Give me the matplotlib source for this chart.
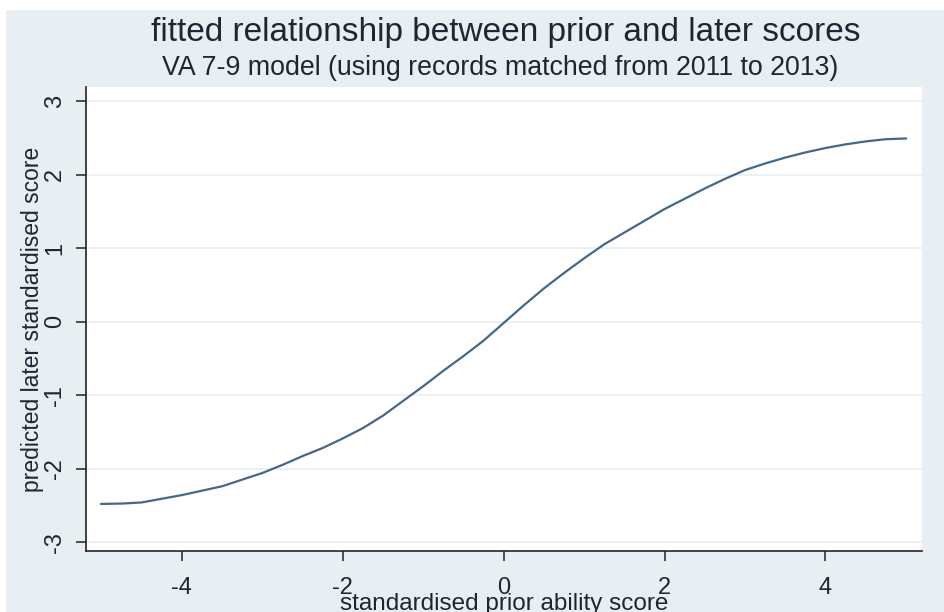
import matplotlib
matplotlib.use("Agg")
import matplotlib.pyplot as plt
from matplotlib.patches import Rectangle

# values
prior_score = [-5.0, -4.75, -4.5, -4.25, -4.0, -3.75, -3.5, -3.25, -3.0, -2.75, -2.5,
               -2.25, -2.0, -1.75, -1.5, -1.25, -1.0, -0.75, -0.5, -0.25, 0.0,
               0.25, 0.5, 0.75, 1.0, 1.25, 1.5, 1.75, 2.0, 2.25, 2.5,
               2.75, 3.0, 3.25, 3.5, 3.75, 4.0, 4.25, 4.5, 4.75, 5.0]
predicted_score = [-2.48, -2.475, -2.46, -2.41, -2.36, -2.30, -2.24, -2.15, -2.06, -1.95, -1.83,
                   -1.72, -1.59, -1.45, -1.28, -1.08, -0.88, -0.67, -0.47, -0.26, -0.02,
                   0.22, 0.45, 0.66, 0.86, 1.05, 1.21, 1.37, 1.53, 1.67, 1.81,
                   1.94, 2.06, 2.15, 2.23, 2.30, 2.36, 2.41, 2.45, 2.48, 2.49]
x_ticks = [-4, -2, 0, 2, 4]
y_ticks = [-3, -2, -1, 0, 1, 2, 3]

font = ['Liberation Sans', 'DejaVu Sans']
text_col = '#1f2633'
bg = '#e8eff2'

fig = plt.figure(figsize=(9.44, 6.12), dpi=100)
fig.patch.set_facecolor('white')
# graph region (slightly offset, as in the screenshot)
fig.patches.append(Rectangle((6 / 944, 0), 1, 1 - 10 / 612, transform=fig.transFigure,
                             facecolor=bg, edgecolor='none', zorder=-10))

ax = fig.add_axes([86 / 944, 1 - 551 / 612, (922 - 86) / 944, (551 - 87) / 612])
ax.set_facecolor('white')
ax.plot(prior_score, predicted_score, color='#456789', linewidth=1.6, zorder=3)

ax.set_xlim(-5.19, 5.2)
ax.set_ylim(-3.12, 3.19)
ax.set_xticks(x_ticks)
ax.set_yticks(y_ticks)
ax.set_xticklabels([str(t) for t in x_ticks])
ax.set_yticklabels([str(t) for t in y_ticks])
ax.grid(axis='y', color='#eaf1f4', linewidth=1.4, zorder=0)
ax.set_axisbelow(True)

for side in ['top', 'right']:
    ax.spines[side].set_visible(False)
for side in ['left', 'bottom']:
    ax.spines[side].set_color('#222222')
    ax.spines[side].set_linewidth(1.2)

ax.tick_params(axis='both', direction='out', length=7, width=1.1, color='#222222',
               labelsize=17, labelcolor=text_col)
ax.tick_params(axis='y', labelrotation=90, pad=7.5)
ax.tick_params(axis='x', pad=12)
for lab in ax.get_xticklabels() + ax.get_yticklabels():
    lab.set_family(font)
for lab in ax.get_yticklabels():
    lab.set_va('center')

ax.set_xlabel('standardised prior ability score', fontsize=17.5, family=font,
              color=text_col, labelpad=-4.5)
ax.set_ylabel('predicted later standardised score', fontsize=16.5, family=font,
              color=text_col, labelpad=0)

fig.text(506 / 944, 1 - 32 / 612, 'fitted relationship between prior and later scores',
         ha='center', va='center', fontsize=24, family=font, color=text_col)
fig.text(500 / 944, 1 - 68 / 612, 'VA 7-9 model (using records matched from 2011 to 2013)',
         ha='center', va='center', fontsize=19.3, family=font, color=text_col)

fig.savefig('out.png', dpi=100, facecolor=fig.get_facecolor())
